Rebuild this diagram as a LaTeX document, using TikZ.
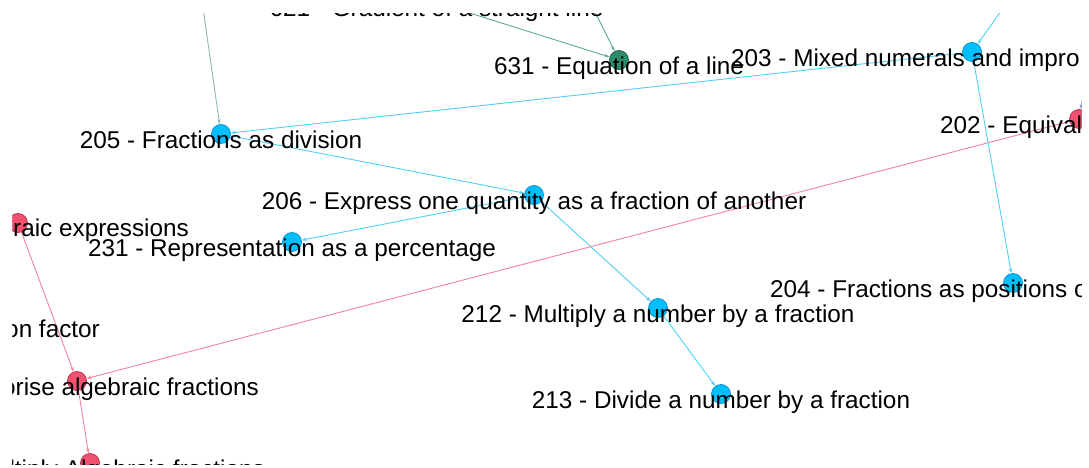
\documentclass[tikz,border=0pt]{standalone}
\usepackage{fontspec}
\setmainfont{Liberation Sans}
\usetikzlibrary{arrows.meta,backgrounds}
\definecolor{bfill}{RGB}{0,191,255}
\definecolor{bdraw}{RGB}{20,150,205}
\definecolor{bedgec}{RGB}{80,208,245}
\definecolor{rfill}{RGB}{240,82,112}
\definecolor{rdraw}{RGB}{190,55,85}
\definecolor{redgec}{RGB}{246,130,156}
\definecolor{gfill}{RGB}{46,139,107}
\definecolor{gdraw}{RGB}{30,100,75}
\definecolor{gedgec}{RGB}{95,170,140}
\definecolor{gedgelt}{RGB}{140,185,165}
\definecolor{pedgec}{RGB}{130,160,210}
\tikzset{
  x=1pt,y=-1pt,
  dot/.style={circle,minimum size=19pt,inner sep=0pt,line width=0.8pt},
  bnode/.style={dot,fill=bfill,draw=bdraw},
  rnode/.style={dot,fill=rfill,draw=rdraw},
  gnode/.style={dot,fill=gfill,draw=gdraw},
  lbl/.style={inner sep=0pt,font=\fontsize{24.3}{29}\selectfont,text=black},
  edge/.style={line width=0.9pt,-{Stealth[length=5pt,width=3.5pt]}},
  bedge/.style={edge,draw=bedgec},
  redge/.style={edge,draw=redgec},
  gedge/.style={edge,draw=gedgec},
}
\begin{document}
\begin{tikzpicture}
\useasboundingbox (0,0) rectangle (1089,468);
% off-view sources
\coordinate (c621) at (438,3);
\coordinate (cg2) at (579,-20);
\coordinate (cg3) at (199,-20);
\coordinate (cb1) at (1023,-20);
\coordinate (cp1) at (1103,-20);
% nodes
\node[gnode] (n631) at (619,60) {};
\node[bnode] (n203) at (972,52) {};
\node[rnode] (n202) at (1079,119) {};
\node[bnode] (n205) at (221,134) {};
\node[bnode] (n206) at (534,195) {};
\node[bnode] (n231) at (292,242) {};
\node[bnode] (n204) at (1013,283) {};
\node[bnode] (n212) at (658,308) {};
\node[bnode] (n213) at (721,394) {};
\node[rnode] (nalg) at (18,223) {};
\node[rnode] (nfac) at (77,381) {};
\node[rnode] (nmul) at (90,463) {};
% edges
\begin{scope}[on background layer]
\draw[gedge] (c621) -- (n631);
\draw[gedge] (cg2) -- (n631);
\draw[gedge,draw=gedgelt] (cg3) -- (n205);
\draw[bedge] (cb1) -- (n203);
\draw[bedge] (n203) -- (n205);
\draw[bedge] (n205) -- (n206);
\draw[bedge] (n206) -- (n231);
\draw[bedge] (n206) -- (n212);
\draw[bedge] (n212) -- (n213);
\draw[bedge] (n203) -- (n204);
\draw[edge,draw=pedgec] (cp1) -- (n202);
\draw[redge] (n202) -- (nfac);
\draw[redge] (nalg) -- (nfac);
\draw[redge] (nfac) -- (nmul);
\end{scope}
% labels
\node[lbl,anchor=base] (l621) at (436.5,17) {621 - Gradient of a straight line};
\node[lbl,anchor=base] (l631) at ([yshift=-14.5pt]n631.center) {631 - Equation of a line};
\node[lbl,anchor=base west] (l203) at (731,66.5) {203 - Mixed numerals and impro};
\node[lbl,anchor=base west] (l202) at (940,133.5) {202 - Equival};
\node[lbl,anchor=base] (l205) at ([yshift=-14.5pt]n205.center) {205 - Fractions as division};
\node[lbl,anchor=base] (l206) at ([yshift=-14.5pt]n206.center) {206 - Express one quantity as a fraction of another};
\node[lbl,anchor=base] (l231) at ([yshift=-14.5pt]n231.center) {231 - Representation as a percentage};
\node[lbl,anchor=base west] (l204) at (770,297.5) {204 - Fractions as positions o};
\node[lbl,anchor=base] (l212) at ([yshift=-14.5pt]n212.center) {212 - Multiply a number by a fraction};
\node[lbl,anchor=base] (l213) at ([yshift=-14.5pt]n213.center) {213 - Divide a number by a fraction};
\node[lbl,anchor=base east] (lalg) at (189,236.5) {raic expressions};
\node[lbl,anchor=base east] (lconv) at (100,337) {on factor};
\node[lbl,anchor=base east] (lfac) at (259,395) {orise algebraic fractions};
\node[lbl,anchor=base east] (lmul) at (265,477.5) {ltiply Algebraic fractions};
% view frame mask
\fill[white,even odd rule] (-5,-5) rectangle (1094,473) (12,13) rectangle (1082,465);
\end{tikzpicture}
\end{document}
